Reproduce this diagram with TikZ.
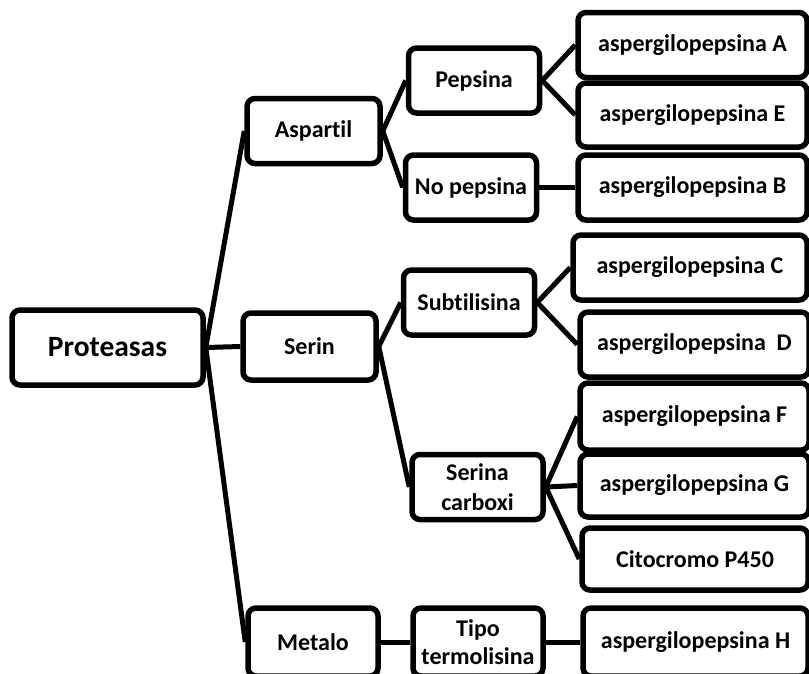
\documentclass[tikz,border=0pt]{standalone}
\usepackage{fontspec}
\setmainfont{Carlito}[Ligatures=NoCommon]
\begin{document}
\begin{tikzpicture}[
    x=1pt, y=-1pt,
    box/.style={rectangle, draw, line width=5.5pt, rounded corners=8pt, fill=white,
        minimum height=65pt, align=center, font=\fontsize{24}{30}\selectfont\bfseries},
    mid/.style={box, minimum width=131pt},
    leaf/.style={box, minimum width=229pt},
    link/.style={line width=5pt}
]
    \useasboundingbox (0,0) rectangle (809,673);

    % Root
    \node[box, minimum width=191pt, minimum height=75pt, font=\fontsize{29.5}{31}\selectfont\bfseries] (prot) at (107.5,347.5) {Proteasas};

    % First level
    \node[mid, minimum width=133pt] (aspartil) at (313.5,131) {Aspartil};
    \node[mid, minimum width=133pt, minimum height=67pt] (serin) at (309.5,346.5) {Serin};
    \node[mid, minimum width=130pt, minimum height=68pt] (metalo) at (313,642) {Metalo};

    % Second level
    \node[mid] (pepsina) at (474,80.5) {Pepsina};
    \node[mid] (nopepsina) at (471,187.5) {No pepsina};
    \node[mid] (subtilisina) at (469,302.5) {Subtilisina};
    \node[mid, inner sep=0pt] (carboxi) at (477.5,487) {Serina\\carboxi};
    \node[mid, inner sep=0pt, minimum width=130pt, minimum height=68pt,
        font=\fontsize{24}{28}\selectfont\bfseries] (tipo) at (478,642) {Tipo\\termolisina};

    % Leaves
    \node[leaf] (aspA) at (692.5,45) {aspergilopepsina A};
    \node[leaf, minimum height=64pt] (aspE) at (692.5,115) {aspergilopepsina E};
    \node[leaf] (aspB) at (692.5,187.5) {aspergilopepsina B};
    \node[leaf, minimum width=234pt] (aspC) at (690,267.5) {aspergilopepsina C};
    \node[leaf] (aspD) at (694.5,344.5) {aspergilopepsina\ \ D};
    \node[leaf, minimum height=67pt] (aspF) at (694.5,416.5) {aspergilopepsina F};
    \node[leaf, minimum height=63pt] (aspG) at (694.5,485.5) {aspergilopepsina G};
    \node[leaf, minimum width=226pt, minimum height=62pt] (cito) at (695,559) {Citocromo P450};
    \node[leaf, minimum width=225pt, minimum height=68pt] (aspH) at (695.5,642) {aspergilopepsina H};

    % Links
    \draw[link] (prot.east) -- (aspartil.west);
    \draw[link] (prot.east) -- (serin.west);
    \draw[link] (prot.east) -- (metalo.west);
    \draw[link] (aspartil.east) -- (pepsina.west);
    \draw[link] (aspartil.east) -- (nopepsina.west);
    \draw[link] (serin.east) -- (subtilisina.west);
    \draw[link] (serin.east) -- (carboxi.west);
    \draw[link] (metalo.east) -- (tipo.west);
    \draw[link] (pepsina.east) -- (aspA.west);
    \draw[link] (pepsina.east) -- (aspE.west);
    \draw[link] (nopepsina.east) -- (aspB.west);
    \draw[link] (subtilisina.east) -- (aspC.west);
    \draw[link] (subtilisina.east) -- (aspD.west);
    \draw[link] (carboxi.east) -- (aspF.west);
    \draw[link] (carboxi.east) -- (aspG.west);
    \draw[link] (carboxi.east) -- (cito.west);
    \draw[link] (tipo.east) -- (aspH.west);
\end{tikzpicture}
\end{document}
